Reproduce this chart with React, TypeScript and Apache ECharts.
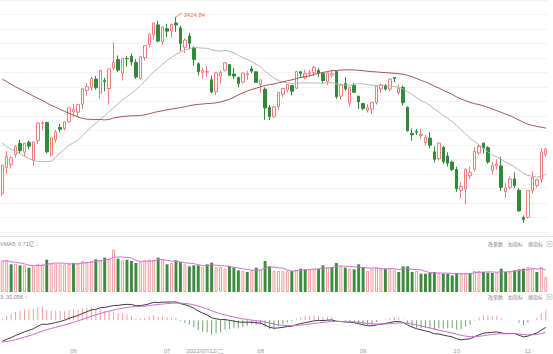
import React, { useEffect, useRef } from "react";
import * as echarts from "echarts";

const dates = [
  "2022-05-10","2022-05-11","2022-05-12","2022-05-13","2022-05-16","2022-05-17","2022-05-18","2022-05-19","2022-05-20","2022-05-23",
  "2022-05-24","2022-05-25","2022-05-26","2022-05-27","2022-05-30","2022-05-31","2022-06-01","2022-06-02","2022-06-06","2022-06-07",
  "2022-06-08","2022-06-09","2022-06-10","2022-06-13","2022-06-14","2022-06-15","2022-06-16","2022-06-17","2022-06-20","2022-06-21",
  "2022-06-22","2022-06-23","2022-06-24","2022-06-27","2022-06-28","2022-06-29","2022-06-30","2022-07-01","2022-07-04","2022-07-05",
  "2022-07-06","2022-07-07","2022-07-08","2022-07-11","2022-07-12","2022-07-13","2022-07-14","2022-07-15","2022-07-18","2022-07-19",
  "2022-07-20","2022-07-21","2022-07-22","2022-07-25","2022-07-26","2022-07-27","2022-07-28","2022-07-29","2022-08-01","2022-08-02",
  "2022-08-03","2022-08-04","2022-08-05","2022-08-08","2022-08-09","2022-08-10","2022-08-11","2022-08-12","2022-08-15","2022-08-16",
  "2022-08-17","2022-08-18","2022-08-19","2022-08-22","2022-08-23","2022-08-24","2022-08-25","2022-08-26","2022-08-29","2022-08-30",
  "2022-08-31","2022-09-01","2022-09-02","2022-09-05","2022-09-06","2022-09-07","2022-09-08","2022-09-09","2022-09-13","2022-09-14",
  "2022-09-15","2022-09-16","2022-09-19","2022-09-20","2022-09-21","2022-09-22","2022-09-23","2022-09-26","2022-09-27","2022-09-28",
  "2022-09-29","2022-09-30","2022-10-10","2022-10-11","2022-10-12","2022-10-13","2022-10-14","2022-10-17","2022-10-18","2022-10-19",
  "2022-10-20","2022-10-21","2022-10-24","2022-10-25","2022-10-26","2022-10-27","2022-10-28","2022-10-31","2022-11-01","2022-11-02",
  "2022-11-03","2022-11-04","2022-11-07"
];

const opens = [
  2962,3030,3038,3064,3093,3070,3096,3049,3101,3145,
  3148,3063,3103,3135,3132,3150,3176,3175,3196,3232,
  3240,3262,3225,3258,3237,3291,3313,3277,3316,3321,
  3306,3264,3318,3353,3378,3404,3360,3394,3388,3409,
  3396,3345,3375,3344,3302,3279,3280,3260,3229,3270,
  3285,3300,3275,3266,3254,3273,3289,3281,3248,3235,
  3188,3164,3189,3222,3233,3245,3238,3281,3265,3275,
  3279,3285,3276,3255,3272,3282,3217,3250,3199,3245,
  3217,3198,3180,3183,3200,3236,3245,3236,3266,3226,
  3240,3188,3119,3124,3114,3095,3107,3071,3053,3083,
  3060,3044,3025,2970,2973,3008,3025,3068,3094,3082,
  3022,3034,3034,2966,2978,3000,2970,2899,2899,2969,
  2983,2999,3064
];

const highs = [
  3037,3073,3059,3088,3103,3094,3100,3097,3148,3151,
  3150,3108,3128,3145,3150,3187,3197,3196,3238,3251,
  3268,3270,3286,3265,3289,3358,3324,3317,3323,3329,
  3314,3321,3350,3381,3410,3415,3400,3407,3407,3424.84,
  3402,3369,3383,3348,3306,3292,3296,3271,3279,3285,
  3307,3301,3291,3268,3279,3283,3296,3283,3260,3240,
  3194,3192,3228,3237,3249,3246,3282,3283,3286,3286,
  3297,3290,3277,3279,3286,3282,3250,3267,3241,3252,
  3218,3199,3196,3201,3244,3250,3249,3263,3266,3248,
  3245,3190,3132,3131,3131,3115,3122,3085,3094,3086,
  3070,3048,3032,2991,3026,3032,3083,3091,3094,3086,
  3045,3051,3058,2988,3006,3017,2975,2904,2970,3020,
  3000,3081,3081
];

const lows = [
  2955,3013,3027,3055,3067,3060,3078,3035,3092,3128,
  3067,3058,3095,3122,3127,3148,3162,3163,3183,3218,
  3232,3234,3210,3230,3195,3286,3280,3258,3294,3297,
  3262,3259,3311,3345,3366,3358,3352,3372,3371,3386,
  3335,3331,3340,3297,3272,3263,3267,3225,3220,3250,
  3282,3270,3262,3240,3250,3260,3277,3253,3227,3155,
  3154,3160,3180,3214,3227,3219,3236,3266,3261,3268,
  3270,3268,3251,3246,3266,3210,3208,3231,3190,3227,
  3183,3180,3174,3170,3195,3226,3232,3230,3254,3220,
  3192,3124,3100,3115,3105,3087,3080,3043,3048,3040,
  3032,3021,2966,2950,2933,3000,3020,3062,3066,3040,
  3012,3024,2968,2950,2973,2976,2914,2885.09,2896,2961,
  2977,2990,3058
];

const closes = [
  3035.84,3058.70,3054.99,3084.28,3073.75,3093.70,3085.98,3096.96,3146.57,3146.86,
  3070.93,3107.46,3123.11,3130.24,3149.06,3186.43,3182.16,3195.46,3236.37,3241.76,
  3263.79,3238.95,3284.83,3255.55,3288.91,3305.41,3285.38,3316.79,3315.43,3306.72,
  3267.20,3320.15,3349.75,3379.19,3409.21,3361.52,3398.62,3387.64,3405.43,3404.03,
  3355.35,3364.40,3356.08,3313.58,3281.47,3284.29,3281.74,3228.06,3278.10,3279.43,
  3304.72,3272.00,3269.97,3250.39,3277.44,3275.76,3282.58,3253.24,3259.96,3186.27,
  3163.67,3189.04,3227.03,3236.93,3247.43,3230.02,3281.67,3276.89,3276.09,3277.88,
  3292.53,3277.54,3258.08,3277.79,3276.22,3215.20,3246.25,3236.22,3240.73,3227.22,
  3202.14,3184.98,3186.48,3199.91,3243.45,3246.29,3235.59,3262.05,3263.80,3237.54,
  3199.92,3126.40,3115.60,3122.41,3117.18,3108.91,3088.37,3051.23,3093.86,3045.07,
  3041.20,3024.39,2974.15,2979.79,3025.51,3016.36,3071.99,3084.94,3080.96,3044.39,
  3035.05,3038.93,2977.56,2976.28,2999.50,2982.90,2915.93,2893.48,2969.20,3003.37,
  2997.81,3070.80,3077.82
];

// closes before the first visible day, only used for the moving averages and MACD
const priorCloses = [
  3479.95,3485.91,3462.95,3428.88,3446.65,3465.83,3468.04,3490.76,3490.61,3457.15,
  3489.15,3429.96,3451.41,3462.31,
  3488.83,3484.19,3481.11,3447.65,3372.86,3293.53,3256.39,3296.09,3309.75,3223.53,
  3063.97,3170.71,3215.04,3251.07,3253.69,3259.86,3271.03,3250.26,3212.24,3214.50,
  3203.94,3266.60,3252.20,
  3282.72,3283.43,3236.70,3251.85,3167.13,3213.33,3186.82,3225.64,3211.24,3195.52,
  3194.03,3151.05,3079.81,3086.92,2928.51,2886.43,2958.28,2975.48,3047.06,
  3067.76,3001.56,3004.14
];

const volumes = [
  93,95,83,85,80,80,73,77,85,83,
  97,85,85,83,83,85,87,85,93,90,
  93,98,95,103,100,127,100,95,97,93,
  87,90,95,97,97,103,95,83,87,95,
  90,83,77,80,80,75,83,88,75,75,
  70,78,73,65,63,60,65,73,67,93,
  77,63,63,62,63,63,67,70,68,68,
  70,70,80,73,75,87,77,73,70,68,
  83,75,63,70,73,70,70,70,67,60,
  77,77,60,63,55,55,57,60,57,55,
  55,50,57,55,57,57,63,63,60,58,
  57,58,70,60,60,65,68,70,75,73,
  60,75,45
];

const cursorDateLabel = "2022/07/12/二";
const toolbarLabels = ["改参数", "加指标", "换指标"];
const volHeader = "VMA5: 0.71亿 ↓";
const macdHeader = "3: 30.056 ↑";

const UP = "#ef7b7b";
const DOWN = "#2f8a3a";
const FONT = "'Liberation Sans', 'Noto Sans CJK SC', sans-serif";

const P = priorCloses.length;
const allCloses = [...priorCloses, ...closes];

function movingAvg(n: number) {
  return closes.map((_, i) => {
    const j = i + P;
    let s = 0;
    for (let k = j - n + 1; k <= j; k++) s += allCloses[k];
    return +(s / n).toFixed(2);
  });
}

function ema(arr: number[], n: number) {
  const a = 2 / (n + 1);
  const out: number[] = [];
  let e = arr[0];
  arr.forEach((v, i) => {
    e = i === 0 ? v : a * v + (1 - a) * e;
    out.push(e);
  });
  return out;
}

export default function App() {
  const ref = useRef<HTMLDivElement>(null);
  useEffect(() => {
    if (!ref.current) return;
    const chart = echarts.init(ref.current, undefined, { renderer: "svg" });

    const ma20 = movingAvg(20);
    const ma60 = movingAvg(60);
    const e12 = ema(allCloses, 12);
    const e26 = ema(allCloses, 26);
    const difAll = e12.map((v, i) => v - e26[i]);
    const deaAll = ema(difAll, 9);
    const dif = difAll.slice(P);
    const dea = deaAll.slice(P);
    const hist = dif.map((v, i) => 2 * (v - dea[i]));

    const volMa5 = volumes.map((_, i) => {
      const from = Math.max(0, i - 4);
      const seg = volumes.slice(from, i + 1);
      return seg.reduce((a, b) => a + b, 0) / seg.length;
    });

    const lineVals = [...dif, ...dea];
    const lo = Math.min(...lineVals);
    const hi = Math.max(...lineVals);
    const R = ((hi - lo) * 45) / 41;
    const macdMax = hi + (R * 2) / 45;
    const macdMin = macdMax - R;

    const topHigh = Math.max(...highs);
    const topIdx = highs.indexOf(topHigh);

    const candleData = closes.map((c, i) => [opens[i], c, lows[i], highs[i]]);
    const volData = volumes.map((v, i) => {
      const prev = i === 0 ? priorCloses[P - 1] : closes[i - 1];
      const up = closes[i] >= prev;
      return {
        value: v,
        itemStyle: up
          ? { color: "#ffffff", borderColor: "#f29a9a", borderWidth: 1 }
          : { color: "#3d8c3d", borderColor: "#3d8c3d", borderWidth: 0 },
      };
    });
    const histData = hist.map((v) => ({
      value: v,
      itemStyle: { color: v >= 0 ? "#f0a0a0" : "#6aa56a" },
    }));

    const toolbar = (y: number) => [
      ...toolbarLabels.map((t, k) => ({
        type: "text",
        x: 488 + k * 20,
        y,
        style: { text: t, fill: "#888", fontSize: 5, fontFamily: FONT, textVerticalAlign: "middle" },
      })),
      {
        type: "rect",
        shape: { x: 547, y: y - 2.5, width: 5, height: 5 },
        style: { fill: "#fff", stroke: "#bbb", lineWidth: 0.6 },
      },
      {
        type: "text",
        x: 549.5,
        y,
        style: { text: "×", fill: "#999", fontSize: 5, fontFamily: FONT, textAlign: "center", textVerticalAlign: "middle" },
      },
    ];

    const option: any = {
      animation: false,
      backgroundColor: "#ffffff",
      grid: [
        { left: -2, right: 5, top: 0, height: 232 },
        { left: -2, right: 5, top: 246, height: 46 },
        { left: -2, right: 5, top: 300, height: 45 },
      ],
      xAxis: [0, 1, 2].map((g) => ({
        type: "category",
        gridIndex: g,
        data: dates,
        boundaryGap: true,
        axisLine: { show: false },
        axisTick: { show: false },
        splitLine: { show: false },
        axisLabel:
          g === 2
            ? {
                show: true,
                interval: (idx: number) => idx > 0 && dates[idx].slice(5, 7) !== dates[idx - 1].slice(5, 7),
                formatter: (v: string) => v.slice(5, 7),
                color: "#999",
                fontSize: 6,
                fontFamily: FONT,
                margin: 4,
              }
            : { show: false },
      })),
      yAxis: [
        { type: "value", gridIndex: 0, min: 2860.6, max: 3469.4, show: false, splitLine: { show: false } },
        {
          type: "value",
          gridIndex: 0,
          min: 0,
          max: 16,
          interval: 1,
          axisLine: { show: false },
          axisTick: { show: false },
          axisLabel: { show: false },
          splitLine: { show: true, lineStyle: { color: "#f3f3f3", width: 1 } },
        },
        { type: "value", gridIndex: 1, min: 0, max: 138, show: false, splitLine: { show: false } },
        { type: "value", gridIndex: 2, min: macdMin, max: macdMax, show: false, splitLine: { show: false } },
      ],
      series: [
        {
          type: "candlestick",
          xAxisIndex: 0,
          yAxisIndex: 0,
          data: candleData,
          barWidth: "66%",
          itemStyle: {
            color: "#ffffff",
            color0: DOWN,
            borderColor: UP,
            borderColor0: DOWN,
            borderWidth: 1,
          },
          markPoint: {
            silent: true,
            symbol: "path://M0,6L6,0",
            symbolSize: [6, 4],
            symbolOffset: [3, -2],
            itemStyle: { color: "transparent", borderColor: "#f0703c", borderWidth: 0.8 },
            label: {
              show: true,
              position: "right",
              distance: 1,
              formatter: () => topHigh.toFixed(2),
              color: "#f0703c",
              fontSize: 6,
              fontFamily: FONT,
            },
            data: [{ coord: [topIdx, topHigh], value: topHigh }],
          },
        },
        {
          type: "line",
          xAxisIndex: 0,
          yAxisIndex: 0,
          data: ma20,
          symbol: "none",
          lineStyle: { color: "#b5b5b5", width: 1 },
        },
        {
          type: "line",
          xAxisIndex: 0,
          yAxisIndex: 0,
          data: ma60,
          symbol: "none",
          lineStyle: { color: "#a55452", width: 1 },
        },
        {
          type: "bar",
          xAxisIndex: 1,
          yAxisIndex: 2,
          data: volData,
          barWidth: "66%",
        },
        {
          type: "line",
          xAxisIndex: 1,
          yAxisIndex: 2,
          data: volMa5,
          symbol: "none",
          lineStyle: { color: "#d070d8", width: 1 },
        },
        {
          type: "bar",
          xAxisIndex: 2,
          yAxisIndex: 3,
          data: histData,
          barWidth: 1,
        },
        {
          type: "line",
          xAxisIndex: 2,
          yAxisIndex: 3,
          data: dif,
          symbol: "none",
          lineStyle: { color: "#3a3a3a", width: 1 },
        },
        {
          type: "line",
          xAxisIndex: 2,
          yAxisIndex: 3,
          data: dea,
          symbol: "none",
          lineStyle: { color: "#d468d8", width: 1 },
        },
      ],
      graphic: [
        {
          type: "line",
          shape: { x1: 0, y1: 236.5, x2: 553, y2: 236.5 },
          style: { stroke: "#e6e6e6", lineWidth: 1 },
        },
        {
          type: "text",
          x: 0,
          y: 244,
          style: { text: volHeader, fill: "#888", fontSize: 5.5, fontFamily: FONT, textVerticalAlign: "middle" },
        },
        {
          type: "text",
          x: 0,
          y: 297,
          style: { text: macdHeader, fill: "#888", fontSize: 5.5, fontFamily: FONT, textVerticalAlign: "middle" },
        },
        ...toolbar(244),
        ...toolbar(297),
        {
          type: "text",
          x: 205,
          y: 351,
          style: { text: cursorDateLabel, fill: "#999", fontSize: 6, fontFamily: FONT, textAlign: "center", textVerticalAlign: "middle" },
        },
      ],
    };

    chart.setOption(option);
    return () => chart.dispose();
  }, []);

  return (
    <div
      ref={ref}
      style={{ position: "fixed", left: 0, top: 0, width: 553, height: 354, background: "#fff" }}
    />
  );
}
